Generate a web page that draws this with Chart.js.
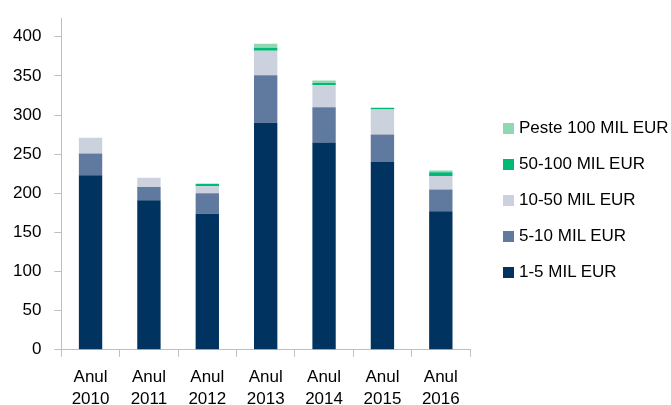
<!DOCTYPE html>
<html>
<head>
<meta charset="utf-8">
<script src="https://cdn.jsdelivr.net/npm/chart.js@4.4.1/dist/chart.umd.min.js"></script>
<style>
  html, body { margin: 0; padding: 0; background: #fff; }
  #wrap { width: 671px; height: 405px; position: relative; overflow: hidden; }
  #legend { position: absolute; left: 503px; top: 110px; margin: 0; padding: 0; list-style: none;
            font-family: 'Liberation Sans', sans-serif; font-size: 17px; color: #000; }
  #legend li { height: 36px; display: flex; align-items: center; white-space: nowrap; }
  #legend span { display: inline-block; width: 11px; height: 11px; margin-right: 5px; }
</style>
</head>
<body>
<div id="wrap"><canvas id="chart"></canvas><ul id="legend"></ul></div>
<script>
// categories and series
const years = [['Anul', '2010'], ['Anul', '2011'], ['Anul', '2012'], ['Anul', '2013'], ['Anul', '2014'], ['Anul', '2015'], ['Anul', '2016']];
const s1to5 = [223, 191, 174, 290, 265, 240, 177];
const s5to10 = [28, 17, 26, 61, 45, 35, 28];
const s10to50 = [20, 12, 9, 31, 28, 32, 17];
const s50to100 = [0, 0, 3, 4, 3, 2, 5];
const sPeste100 = [0, 0, 0.5, 5, 3, 0.5, 2];
const yTicks = [0, 50, 100, 150, 200, 250, 300, 350, 400];

const axisGrey = '#bfbfbf';
const font = { family: 'Liberation Sans', size: 17 };

const chart = new Chart(document.getElementById('chart'), {
  type: 'bar',
  data: {
    labels: years,
    datasets: [
      { label: '1-5 MIL EUR', data: s1to5, backgroundColor: '#00335f' },
      { label: '5-10 MIL EUR', data: s5to10, backgroundColor: '#60799e' },
      { label: '10-50 MIL EUR', data: s10to50, backgroundColor: '#cbd2de' },
      { label: '50-100 MIL EUR', data: s50to100, backgroundColor: '#00b974' },
      { label: 'Peste 100 MIL EUR', data: sPeste100, backgroundColor: '#8fd8b2' }
    ]
  },
  options: {
    responsive: true,
    maintainAspectRatio: false,
    animation: false,
    datasets: { bar: { categoryPercentage: 1, barPercentage: 0.4 } },
    layout: { padding: { left: 0, top: 18, right: 201, bottom: -14 } },
    scales: {
      x: {
        stacked: true,
        grid: { offset: true, drawOnChartArea: false, drawTicks: true, tickLength: 7, color: axisGrey },
        border: { color: axisGrey },
        ticks: { color: '#000', font: { ...font, lineHeight: 1.3 }, padding: 9, maxRotation: 0 }
      },
      y: {
        stacked: true,
        min: 0,
        max: 424,
        afterBuildTicks: axis => { axis.ticks = yTicks.map(v => ({ value: v })); },
        // the axis runs past the 400 label, so no room is needed for it at the top
        afterFit: axis => { axis.paddingTop = 0; },
        grid: { drawOnChartArea: false, drawTicks: true, tickLength: 7, color: axisGrey },
        border: { color: axisGrey },
        ticks: { color: '#000', font: font, padding: 13 }
      }
    },
    plugins: {
      legend: { display: false },
      tooltip: { enabled: false }
    }
  }
});

// legend, top entry = last series
const legend = document.getElementById('legend');
chart.data.datasets.slice().reverse().forEach(ds => {
  const li = document.createElement('li');
  const box = document.createElement('span');
  box.style.background = ds.backgroundColor;
  li.appendChild(box);
  li.appendChild(document.createTextNode(ds.label));
  legend.appendChild(li);
});
</script>
</body>
</html>
